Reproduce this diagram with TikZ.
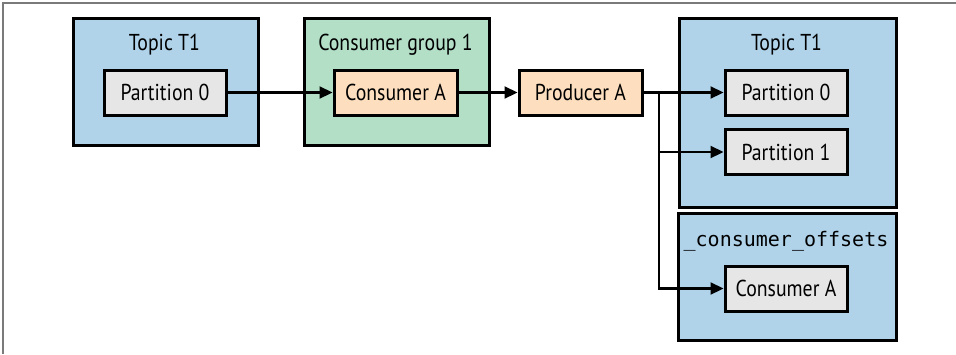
\documentclass[tikz,border=0pt]{standalone}
\usepackage{fontspec}
\setmainfont{PT Sans}[FakeStretch=0.86]
\newfontfamily\monofont{DejaVu Sans Mono}
\usetikzlibrary{arrows.meta}
\definecolor{tblue}{HTML}{B0D3EA}
\definecolor{tgreen}{HTML}{B3DFC7}
\definecolor{torange}{HTML}{FDDFBF}
\definecolor{tgray}{HTML}{E6E6E6}
\definecolor{framegray}{HTML}{7A7A7A}
\tikzset{
  outerbox/.style={draw, line width=3pt, anchor=north west, inner sep=0pt},
  innerbox/.style={draw, line width=3pt, inner sep=0pt, minimum height=45pt, font=\fontsize{23}{26}\selectfont},
  lab/.style={font=\fontsize{23}{26}\selectfont, inner sep=0pt},
  arr/.style={line width=2.2pt, -{Triangle[length=13pt,width=12pt]}},
}
\begin{document}
\begin{tikzpicture}[x=1pt,y=-1pt]
\useasboundingbox (0,0) rectangle (956,354);
\draw[framegray, line width=1.3pt] (3,354) -- (3,3) -- (956,3);
% outer containers
\node[outerbox, fill=tblue, minimum width=185pt, minimum height=127pt] (t1) at (72,17) {};
\node[outerbox, fill=tgreen, minimum width=185pt, minimum height=127pt] (cg) at (303,17) {};
\node[outerbox, fill=tblue, minimum width=217pt, minimum height=189pt] (t2) at (678,17) {};
\node[outerbox, fill=tblue, minimum width=218pt, minimum height=127pt] (off) at (677,212) {};
% labels
\node[lab] (t1lab) at (164.5,45) {Topic T1};
\node[lab] (cglab) at (395.5,45) {Consumer group 1};
\node[lab] (t2lab) at (786.5,45) {Topic T1};
\node[inner sep=0pt, font=\monofont\fontsize{20}{24}\selectfont] (offlab) at (786,241) {\_consumer\_offsets};
% inner boxes
\node[innerbox, fill=tgray, minimum width=122pt] (p0) at (165,92.5) {Partition 0};
\node[innerbox, fill=torange, minimum width=123pt] (ca) at (395.5,92.5) {Consumer A};
\node[innerbox, fill=torange, minimum width=123pt] (pa) at (580.5,92.5) {Producer A};
\node[innerbox, fill=tgray, minimum width=122pt] (rp0) at (786,92.5) {Partition 0};
\node[innerbox, fill=tgray, minimum width=122pt] (rp1) at (786,152) {Partition 1};
\node[innerbox, fill=tgray, minimum width=122pt] (oca) at (786,288.5) {Consumer A};
% connectors
\coordinate (br) at (659,92.5);
\draw[arr] (p0.east) -- (ca.west);
\draw[arr] (ca.east) -- (pa.west);
\draw[arr] (pa.east) -- (rp0.west);
\draw[arr] (br) |- (rp1.west);
\draw[arr] (br) |- (oca.west);
\end{tikzpicture}
\end{document}
